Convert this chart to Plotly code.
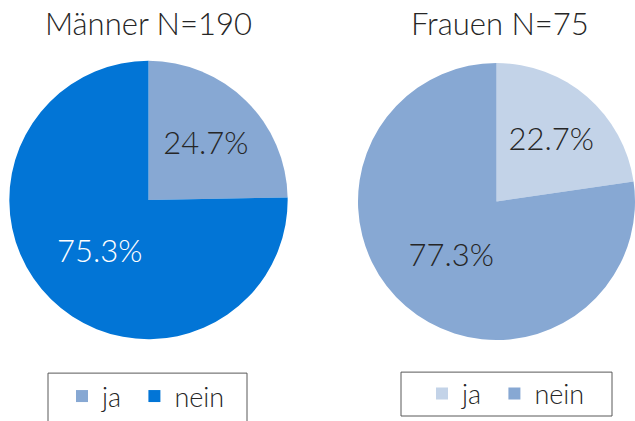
import plotly.graph_objects as go

# ── Data ──────────────────────────────────────────────────────────────────────
labels_m = ["ja\u00a0", "nein"]
labels_f = ["ja ", "nein "]          # eigene Labels, sonst teilen sich beide Pies eine Legende
maenner_pct = [24.7, 75.3]
frauen_pct = [22.7, 77.3]
titles = ["Männer N=190", "Frauen N=75"]

FONT = "Lato, Open Sans, sans-serif"
TXT = "#262626"
W, H = 635, 421


def fx(px):
    return px / W


def fy(py):
    return 1 - py / H


fig = go.Figure()

# Männer
fig.add_trace(go.Pie(
    labels=labels_m, values=maenner_pct, sort=False, direction="clockwise",
    marker=dict(colors=["#87A8D3", "#0275D6"], line=dict(width=0)),
    texttemplate="%{value:.1f}%", textposition="inside",
    insidetextfont=dict(size=31, color=[TXT, "white"], family=FONT, weight=300),
    domain=dict(x=[fx(9), fx(288)], y=[fy(340), fy(61)]),
    legend="legend", hoverinfo="label+value",
))
# Frauen
fig.add_trace(go.Pie(
    labels=labels_f, values=frauen_pct, sort=False, direction="clockwise",
    marker=dict(colors=["#C3D3E8", "#87A8D3"], line=dict(width=0)),
    texttemplate="%{value:.1f}%", textposition="inside",
    insidetextfont=dict(size=31, color=[TXT, TXT], family=FONT, weight=300),
    domain=dict(x=[fx(358), 1.0], y=[fy(341), fy(63)]),
    legend="legend2", hoverinfo="label+value",
))

leg = dict(orientation="h", bgcolor="rgba(0,0,0,0)", borderwidth=0,
           font=dict(size=27, color=TXT, family=FONT, weight=300),
           yanchor="middle", xanchor="left",
           itemclick=False, itemdoubleclick=False)
title_font = dict(size=31, color=TXT, family=FONT, weight=300)
fig.update_layout(
    width=W, height=H,
    paper_bgcolor="white", plot_bgcolor="white",
    margin=dict(l=0, r=0, t=0, b=0),
    font=dict(family=FONT, color=TXT),
    legend=dict(**leg, x=fx(62), y=fy(397)),
    legend2=dict(**leg, x=fx(422), y=fy(394)),
    shapes=[
        dict(type="rect", xref="paper", yref="paper", x0=fx(48), x1=fx(247),
             y0=fy(425), y1=fy(374), line=dict(color="#595959", width=1)),
        dict(type="rect", xref="paper", yref="paper", x0=fx(401), x1=fx(612),
             y0=fy(417), y1=fy(373), line=dict(color="#595959", width=1)),
    ],
    annotations=[
        dict(text=titles[0], x=fx(148), y=fy(23), xref="paper", yref="paper",
             xanchor="center", yanchor="middle", showarrow=False,
             font=title_font),
        dict(text=titles[1], x=fx(500), y=fy(23), xref="paper", yref="paper",
             xanchor="center", yanchor="middle", showarrow=False,
             font=title_font),
    ],
)

# Seitenrand entfernen, damit die Grafik bündig in der Ecke sitzt
fig.write_html("out.html", config={"displayModeBar": False},
               post_script="document.body.style.margin='0';")
